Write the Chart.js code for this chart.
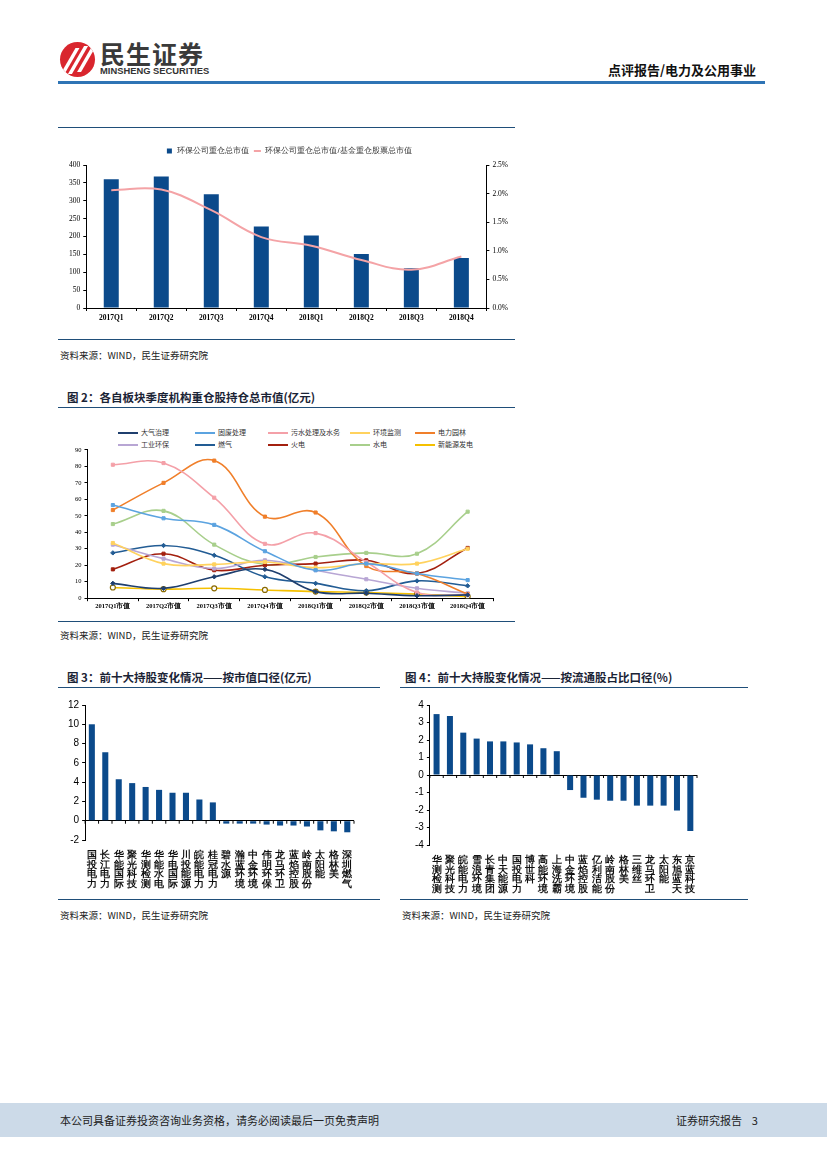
<!DOCTYPE html>
<html>
<head>
<meta charset="utf-8">
<script src="https://cdn.jsdelivr.net/npm/chart.js@4.4.0/dist/chart.umd.min.js"></script>
<style>
body{margin:0;width:827px;height:1169px;position:relative;background:#fff;font-family:"Noto Sans CJK SC",sans-serif;overflow:hidden}
.box{position:absolute}
.hr{position:absolute;height:0;border-top:1.5px solid #1F4E79}
.title{position:absolute;font-size:11.5px;font-weight:bold;color:#1b2436;white-space:nowrap}
.src{position:absolute;font-size:9.5px;color:#222;white-space:nowrap}
#leg2{position:absolute;left:118px;top:427px;width:400px;font-size:7px;color:#333}
#leg2 span{position:absolute;white-space:nowrap}
#leg2 i{display:inline-block;width:20px;height:2px;vertical-align:middle;margin-right:3px;position:relative}
</style>
</head>
<body>

<!-- header -->
<div class="box" style="left:60px;top:42px;width:35px;height:35px;border-radius:50%;background:#d9262e;overflow:hidden">
  <div style="position:absolute;left:8px;top:6px;width:4px;height:26px;background:#fff;transform:skewX(-30deg)"></div>
  <div style="position:absolute;left:16px;top:4px;width:4px;height:28px;background:#fff;transform:skewX(-30deg)"></div>
  <div style="position:absolute;left:24px;top:6px;width:4px;height:24px;background:#fff;transform:skewX(-30deg)"></div>
</div>
<div class="box" style="left:100px;top:35px;font-size:25px;font-weight:bold;color:#3a3a3a;letter-spacing:1px">民生证券</div>
<div class="box" style="left:100px;top:66px;font-size:9px;font-weight:bold;color:#333;font-family:'Liberation Sans',sans-serif;transform:scaleX(1.04);transform-origin:left">MINSHENG SECURITIES</div>
<div class="box" style="left:608px;top:60px;font-size:13px;font-weight:bold;color:#111">点评报告/电力及公用事业</div>
<div class="box" style="left:58px;top:81px;width:707px;height:3px;background:#2E74B5"></div>

<!-- chart 1 -->
<div class="hr" style="left:58px;top:127px;width:457px"></div>
<div class="box" style="left:60px;top:143px;width:455px;height:183px"><canvas id="c1"></canvas></div>
<div class="hr" style="left:58px;top:339px;width:457px"></div>
<div class="src" style="left:60px;top:348px">资料来源：WIND，民生证券研究院</div>

<!-- chart 2 -->
<div class="title" style="left:67px;top:389px">图 2：各自板块季度机构重仓股持仓总市值(亿元)</div>
<div class="hr" style="left:58px;top:407px;width:457px"></div>
<div id="leg2"></div>
<div class="box" style="left:60px;top:443px;width:455px;height:168px"><canvas id="c2"></canvas></div>
<div class="hr" style="left:58px;top:621px;width:457px"></div>
<div class="src" style="left:60px;top:628px">资料来源：WIND，民生证券研究院</div>

<!-- chart 3 -->
<div class="title" style="left:67px;top:669px">图 3：前十大持股变化情况——按市值口径(亿元)</div>
<div class="hr" style="left:58px;top:687px;width:322px"></div>
<div class="box" style="left:60px;top:696px;width:302px;height:196px"><canvas id="c3"></canvas></div>
<div class="hr" style="left:58px;top:899px;width:322px"></div>
<div class="src" style="left:60px;top:908px">资料来源：WIND，民生证券研究院</div>

<!-- chart 4 -->
<div class="title" style="left:405px;top:669px">图 4：前十大持股变化情况——按流通股占比口径(%)</div>
<div class="hr" style="left:400px;top:687px;width:348px"></div>
<div class="box" style="left:395px;top:696px;width:310px;height:201px"><canvas id="c4"></canvas></div>
<div class="hr" style="left:400px;top:899px;width:348px"></div>
<div class="src" style="left:402px;top:908px">资料来源：WIND，民生证券研究院</div>

<!-- footer -->
<div class="box" style="left:0;top:1103px;width:827px;height:34px;background:#CCDAE8"></div>
<div class="box" style="left:60px;top:1112px;font-size:11px;color:#222">本公司具备证券投资咨询业务资格，请务必阅读最后一页免责声明</div>
<div class="box" style="left:676px;top:1112px;font-size:11px;color:#222">证券研究报告&nbsp;&nbsp;&nbsp;&nbsp;3</div>

<script>
// 图1
var quarters = ['2017Q1','2017Q2','2017Q3','2017Q4','2018Q1','2018Q2','2018Q3','2018Q4'];
var envHoldValue = [360, 368, 318, 228, 203, 151, 111, 140];
var envHoldRatio = [2.06, 2.07, 1.71, 1.24, 1.09, 0.84, 0.67, 0.90];

// 图2
var quarterLabels = ['2017Q1市值','2017Q2市值','2017Q3市值','2017Q4市值','2018Q1市值','2018Q2市值','2018Q3市值','2018Q4市值'];
var sectorNames = ['大气治理','固废处理','污水处理及水务','环境监测','电力园林','工业环保','燃气','火电','水电','新能源发电'];
var daqi      = [9, 6, 13, 17.5, 4, 3, 1.5, 2];
var gufei     = [56.5, 48.5, 44.5, 28.5, 17, 21, 15, 11];
var wushui    = [81, 82, 61, 33, 39.5, 22, 3.5, 2];
var jiance    = [33.5, 21, 20.5, 22, 18.5, 21, 21, 30];
var yuanlin   = [53.5, 70, 83.5, 49.5, 52, 19.5, 15, 2.5];
var gongye    = [32.5, 24, 18, 23, 17, 11.5, 6, 3];
var ranqi     = [27.5, 32, 26, 13, 9, 4.5, 10.5, 7.5];
var huodian   = [17.5, 27, 17, 20, 21, 23, 15, 30.5];
var shuidian  = [45, 53, 32.5, 20.5, 25, 27.5, 27, 52.5];
var xinnengyuan = [6.5, 5.5, 6, 5, 4, 3.5, 2.5, 1];

// 图3
var stocks3 = ['国投电力','长江电力','华能国际','聚光科技','华测检测','华能水电','华电国际','川投能源','皖能电力','桂冠电力','碧水源','瀚蓝环境','中金环境','伟明环保','龙马环卫','蓝焰控股','岭南股份','太阳能','格林美','深圳燃气'];
var change3 = [10.0, 7.1, 4.3, 3.9, 3.5, 3.2, 2.9, 2.9, 2.2, 1.9, -0.3, -0.3, -0.3, -0.4, -0.5, -0.5, -0.6, -1.0, -1.1, -1.2];

// 图4
var stocks4 = ['华测检测','聚光科技','皖能电力','雪浪环境','长青集团','中天能源','国投电力','博世科','高能环境','上海洗霸','中金环境','蓝焰控股','亿利洁能','岭南股份','格林美','三维丝','龙马环卫','太阳能','东旭蓝天','京蓝科技'];
var change4 = [3.48, 3.37, 2.42, 2.08, 1.92, 1.92, 1.86, 1.75, 1.53, 1.36, -0.86, -1.3, -1.41, -1.47, -1.47, -1.75, -1.75, -1.75, -2.03, -3.2];

var serif = "'Liberation Serif', serif";
var axisGrid = {display: true, drawOnChartArea: false, tickLength: 3, color: '#000'};

new Chart(document.getElementById('c1'), {
  data: {
    labels: quarters,
    datasets: [{
      type: 'line',
      label: '环保公司重仓总市值/基金重仓股票总市值',
      data: envHoldRatio,
      yAxisID: 'y2',
      borderColor: '#F4A3A6',
      backgroundColor: '#F4A3A6',
      borderWidth: 2,
      pointRadius: 0,
      tension: 0.4,
      pointStyle: 'line',
      order: 0
    }, {
      type: 'bar',
      label: '环保公司重仓总市值',
      data: envHoldValue,
      yAxisID: 'y',
      backgroundColor: '#0B4A8B',
      categoryPercentage: 1,
      barPercentage: 0.3,
      pointStyle: 'rect',
      order: 1
    }]
  },
  options: {
    responsive: true,
    maintainAspectRatio: false,
    animation: false,
    layout: {padding: {left: 6, right: 4, top: 0, bottom: 0}},
    plugins: {
      legend: {
        reverse: true,
        labels: {usePointStyle: true, boxWidth: 22, boxHeight: 5, font: {size: 8}, color: '#333', padding: 4}
      },
      tooltip: {enabled: false}
    },
    scales: {
      x: {grid: Object.assign({offset: true}, axisGrid), border: {color: '#000'},
          ticks: {font: {family: serif, size: 7.5, weight: 'bold'}, color: '#000'}},
      y: {min: 0, max: 400, ticks: {stepSize: 50, font: {family: serif, size: 7.5}, color: '#000'},
          grid: axisGrid, border: {color: '#000'}},
      y2: {position: 'right', min: 0, max: 2.5, ticks: {stepSize: 0.5, callback: function(v){return v.toFixed(1) + '%';},
          font: {family: serif, size: 7.5}, color: '#000'}, grid: axisGrid, border: {color: '#000'}}
    }
  }
});

var sectorData = [daqi, gufei, wushui, jiance, yuanlin, gongye, ranqi, huodian, shuidian, xinnengyuan];
var sectorColors = ['#1F3F6E','#5BA3E0','#F4A0A8','#FFD25E','#F07F2A','#B8A6D4','#225C94','#A3200F','#A8CF8C','#F5C000'];
var sectorPoints = ['rectRot','rect','rect','rect','rect','rect','rectRot','rect','rect','circle'];

var ds2 = sectorNames.map(function(name, i){
  return {
    label: name,
    data: sectorData[i],
    borderColor: sectorColors[i],
    backgroundColor: i === 9 ? '#fff' : sectorColors[i],
    pointBorderColor: i === 9 ? '#8a6a00' : sectorColors[i],
    pointBorderWidth: i === 9 ? 1.2 : 1,
    pointStyle: sectorPoints[i],
    pointRadius: i === 9 ? 2.5 : 2.2,
    borderWidth: 1.6,
    tension: 0.4
  };
});

var leg = document.getElementById('leg2');
var legX = [0, 77, 150, 232, 297];
sectorNames.forEach(function(name, i){
  var s = document.createElement('span');
  s.style.left = legX[i % 5] + 'px';
  s.style.top = (i < 5 ? 0 : 12) + 'px';
  s.innerHTML = '<i style="background:' + sectorColors[i] + '"></i>' + name;
  leg.appendChild(s);
});

new Chart(document.getElementById('c2'), {
  type: 'line',
  data: {labels: quarterLabels, datasets: ds2},
  options: {
    responsive: true,
    maintainAspectRatio: false,
    animation: false,
    layout: {padding: {left: 12, right: 22, top: 3, bottom: 0}},
    plugins: {legend: {display: false}, tooltip: {enabled: false}},
    scales: {
      x: {offset: true, grid: Object.assign({offset: true}, axisGrid), border: {color: '#000'},
          ticks: {font: {family: serif, size: 6.5, weight: 'bold'}, color: '#000', maxRotation: 0, padding: 1}},
      y: {min: 0, max: 90, ticks: {stepSize: 10, font: {family: serif, size: 6.5}, color: '#000'},
          grid: axisGrid, border: {color: '#000'}}
    }
  }
});

// short tick marks on the zero line between categories
var zeroTicks = {
  id: 'zeroTicks',
  afterDraw: function(chart) {
    var x = chart.scales.x, y = chart.scales.y, c = chart.ctx;
    var y0 = y.getPixelForValue(0);
    var n = chart.data.labels.length;
    c.save();
    c.strokeStyle = '#000';
    c.lineWidth = 1;
    for (var i = 0; i <= n; i++) {
      var px = x.getPixelForValue(i - 0.5);
      c.beginPath();
      c.moveTo(px, y0);
      c.lineTo(px, y0 + 3);
      c.stroke();
    }
    c.restore();
  }
};

function zeroGrid() {
  return {
    drawTicks: true,
    tickLength: 3,
    color: function(ctx){ return ctx.tick && ctx.tick.value === 0 ? '#000' : 'rgba(0,0,0,0)'; },
    tickColor: '#000',
    lineWidth: 1
  };
}

function splitChars(arr) {
  return arr.map(function(s){ return s.split(''); });
}

function barChart(id, labels, values, yMin, yMax, step, padLeft) {
  new Chart(document.getElementById(id), {
    type: 'bar',
    data: {labels: splitChars(labels), datasets: [{data: values, backgroundColor: '#0B4A8B', categoryPercentage: 1, barPercentage: 0.45}]},
    options: {
      responsive: true,
      maintainAspectRatio: false,
      animation: false,
      layout: {padding: {left: padLeft, right: 8, top: 4, bottom: 0}},
      plugins: {legend: {display: false}, tooltip: {enabled: false}},
      scales: {
        x: {grid: {display: false}, border: {display: false},
            ticks: {font: {size: 9.5, weight: 'bold', lineHeight: 1.0}, color: '#111', maxRotation: 0, autoSkip: false, padding: 3}},
        y: {min: yMin, max: yMax, ticks: {stepSize: step, font: {family: "'Liberation Sans', sans-serif", size: 10}, color: '#000', padding: 3},
            grid: zeroGrid(), border: {color: '#000'}}
      }
    },
    plugins: [zeroTicks]
  });
}

barChart('c3', stocks3, change3, -2, 12, 2, 5);
barChart('c4', stocks4, change4, -4, 4, 1, 17);
</script>
</body>
</html>
